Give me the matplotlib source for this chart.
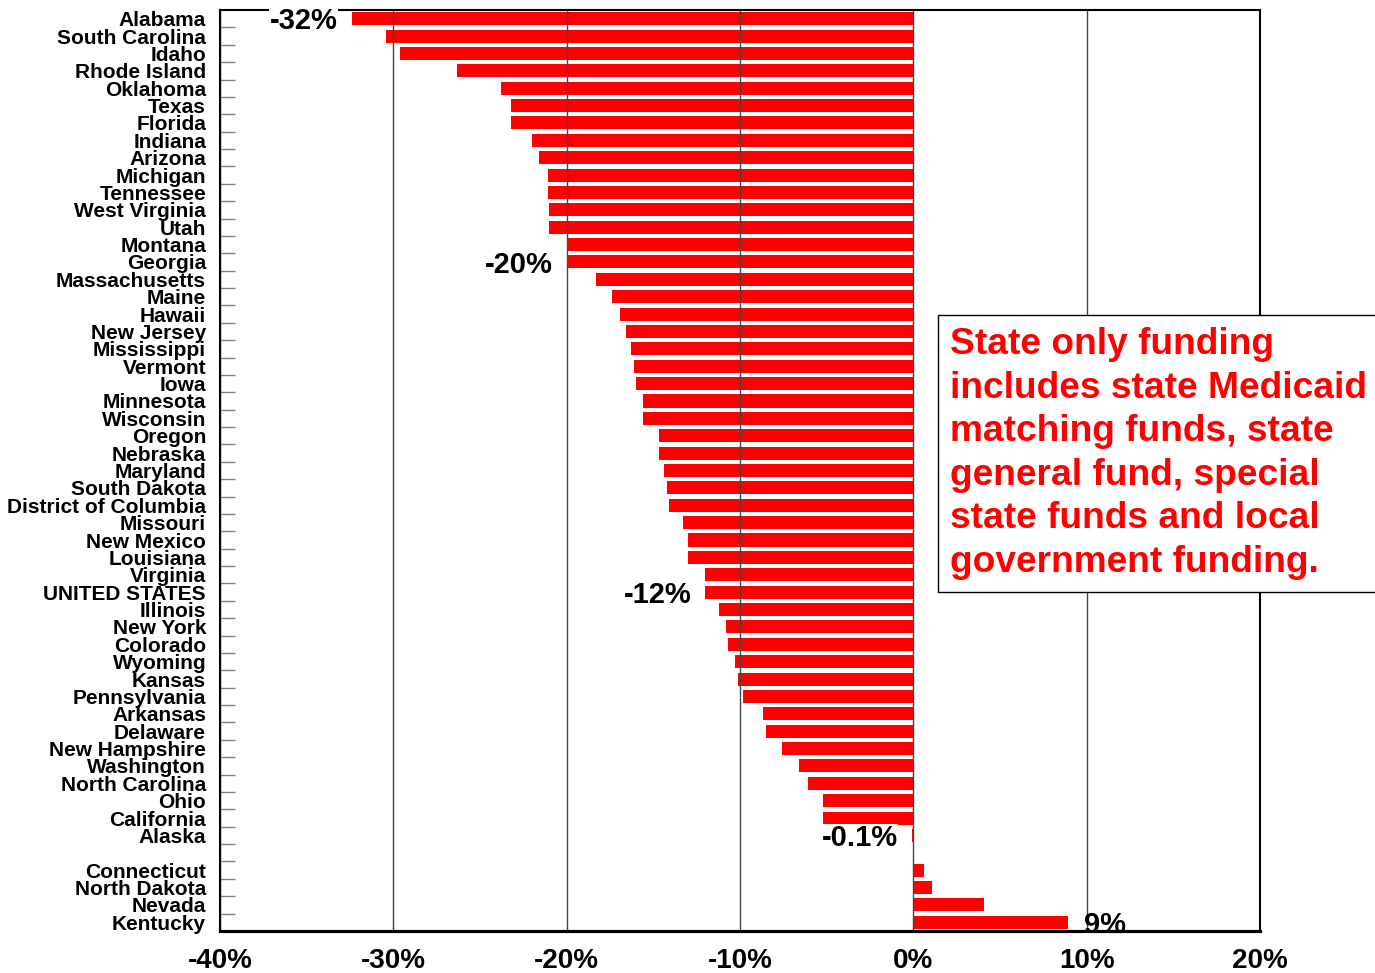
#!/usr/bin/env python3
# Percent change in state only funding, by state (horizontal bar chart)
import numpy as np
import matplotlib.pyplot as plt
from matplotlib.ticker import FuncFormatter, FixedLocator

plt.rcParams['font.family'] = ['Liberation Sans', 'DejaVu Sans']
plt.rcParams['font.weight'] = 'bold'

# Row labels, top to bottom ("" is the empty spacer row)
states = ["Alabama", "South Carolina", "Idaho", "Rhode Island", "Oklahoma", "Texas",
          "Florida", "Indiana", "Arizona", "Michigan", "Tennessee", "West Virginia",
          "Utah", "Montana", "Georgia", "Massachusetts", "Maine", "Hawaii",
          "New Jersey", "Mississippi", "Vermont", "Iowa", "Minnesota", "Wisconsin",
          "Oregon", "Nebraska", "Maryland", "South Dakota", "District of Columbia",
          "Missouri", "New Mexico", "Louisiana", "Virginia", "UNITED STATES",
          "Illinois", "New York", "Colorado", "Wyoming", "Kansas", "Pennsylvania",
          "Arkansas", "Delaware", "New Hampshire", "Washington", "North Carolina",
          "Ohio", "California", "Alaska", "",
          "Connecticut", "North Dakota", "Nevada", "Kentucky"]

# Percent change
pct_change = [-32.4, -30.4, -29.6, -26.3, -23.8, -23.2,
              -23.2, -22.0, -21.6, -21.1, -21.1, -21.0,
              -21.0, -20.0, -20.0, -18.3, -17.4, -16.9,
              -16.6, -16.3, -16.1, -16.0, -15.6, -15.6,
              -14.7, -14.7, -14.4, -14.2, -14.1,
              -13.3, -13.0, -13.0, -12.0, -12.0,
              -11.2, -10.8, -10.7, -10.3, -10.1, -9.8,
              -8.7, -8.5, -7.6, -6.6, -6.1,
              -5.2, -5.2, -0.1, np.nan,
              0.6, 1.1, 4.1, 8.9]

# Call-out labels
note_states = ["Alabama", "Georgia", "UNITED STATES", "Alaska", "Kentucky"]
note_texts = ["-32%", "-20%", "-12%", "-0.1%", "9%"]

note = ("State only funding\nincludes state Medicaid\nmatching funds, state\n"
        "general fund, special\nstate funds and local\ngovernment funding.")

rows = np.arange(len(states))
vals = np.array(pct_change, dtype=float)

fig = plt.figure(figsize=(13.75, 9.73), dpi=100)
ax = fig.add_axes([220 / 1375, 1 - 931 / 973, 1040 / 1375, 921 / 973])

ax.barh(rows[~np.isnan(vals)], vals[~np.isnan(vals)], height=0.75,
        color='#ff0000', edgecolor='none', zorder=1)

ax.set_xlim(-40, 20)
ax.set_ylim(len(states) - 0.5, -0.5)

# x axis
ax.set_xticks(np.arange(-40, 21, 10))
ax.xaxis.set_major_formatter(FuncFormatter(lambda x, _: f"{x:.0f}%"))
ax.tick_params(axis='x', length=0, pad=12.5, labelsize=20)
ax.grid(axis='x', color='#444444', linewidth=1.0)

# y axis: labels at rows, short ticks between rows
ax.set_yticks(rows, labels=states)
ax.tick_params(axis='y', which='major', length=0, pad=10, labelsize=15)
ax.yaxis.set_minor_locator(FixedLocator(rows[:-1] + 0.5))
ax.tick_params(axis='y', which='minor', direction='in', length=10.8,
               width=1, color='#808080')

for side in ['top', 'left', 'right']:
    ax.spines[side].set_linewidth(1.5)
ax.spines['bottom'].set_linewidth(2.3)

# call-outs next to bar ends
for st, txt in zip(note_states, note_texts):
    i = states.index(st)
    v = vals[i]
    if v < 0:
        ax.annotate(txt, xy=(v, i), xytext=(-10, -2), textcoords='offset points',
                    ha='right', va='center', fontsize=21, zorder=5,
                    bbox=dict(fc='white', ec='none', pad=0.5))
    else:
        ax.annotate(txt, xy=(v, i), xytext=(12, -2), textcoords='offset points',
                    ha='left', va='center', fontsize=21, zorder=2,
                    annotation_clip=False, clip_on=True)

fig.text(950 / 1375, 1 - 453.5 / 973, note, ha='left', va='center',
         fontsize=26.7, color='#ff0000', linespacing=1.32, zorder=6,
         bbox=dict(boxstyle='square,pad=0.33', fc='white', ec='black', lw=1))

fig.savefig('out.png', dpi=100)
